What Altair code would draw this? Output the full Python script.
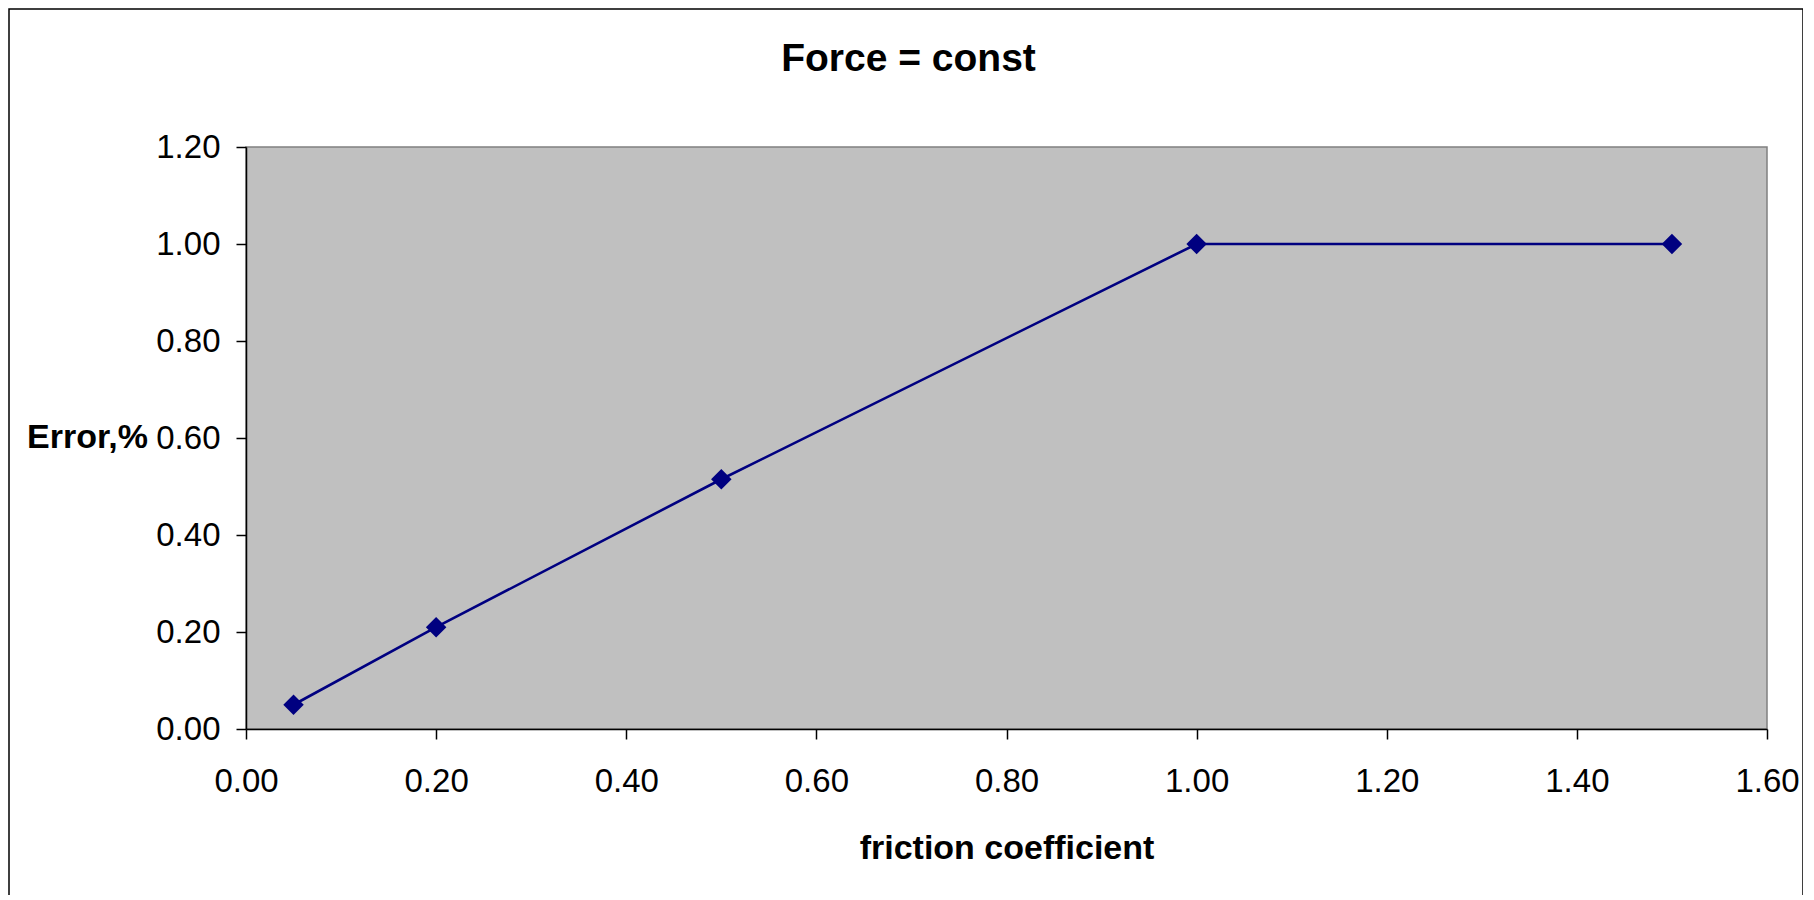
import altair as alt
import pandas as pd

# Data
friction = [0.05, 0.20, 0.50, 1.00, 1.50]
error_pct = [0.05, 0.21, 0.515, 1.00, 1.00]
x_ticks = [0.0, 0.2, 0.4, 0.6, 0.8, 1.0, 1.2, 1.4, 1.6]
y_ticks = [0.0, 0.2, 0.4, 0.6, 0.8, 1.0, 1.2]

df = pd.DataFrame({"friction": friction, "error": error_pct})

W, H = 1521, 582
FONT = "Liberation Sans"
NAVY = "#000080"

x_enc = alt.X(
    "friction:Q",
    scale=alt.Scale(domain=[0, 1.6], nice=False, zero=False),
    axis=alt.Axis(
        values=x_ticks, format=".2f", title="friction coefficient",
        labelPadding=26, labelFlush=False, titleY=119, titleBaseline="middle",
        titleAlign="center",
    ),
)
y_enc = alt.Y(
    "error:Q",
    scale=alt.Scale(domain=[0, 1.2], nice=False),
    axis=alt.Axis(
        values=y_ticks, format=".2f", title="Error,%",
        labelPadding=16, labelFlush=False, titleAngle=0, titleX=-159, titleY=290,
        titleAlign="center", titleBaseline="middle",
    ),
)

line = alt.Chart(df).mark_line(color=NAVY, strokeWidth=2.6).encode(x=x_enc, y=y_enc)
points = alt.Chart(df).mark_point(
    shape="diamond", filled=True, size=420, color=NAVY, opacity=1
).encode(x="friction:Q", y="error:Q")

border = alt.Chart(pd.DataFrame({"a": [0]})).mark_rect(
    fillOpacity=0, stroke="black", strokeWidth=1.5
).encode(
    x=alt.value(-237), x2=alt.value(W + 36), y=alt.value(-138), y2=alt.value(H + 250)
)

chart = (
    alt.layer(border, line, points)
    .properties(
        width=W,
        height=H,
        title=alt.TitleParams(
            "Force = const", fontSize=39, font=FONT, fontWeight="bold",
            anchor="middle", dx=-98, offset=-90, baseline="middle", color="black",
        ),
        autosize=alt.AutoSizeParams(type="none"),
        padding={"left": 238, "top": 139, "right": 36, "bottom": 166},
        background="white",
    )
    .configure_view(fill="#C0C0C0", stroke="#808080", strokeWidth=1.5)
    .configure_axis(
        grid=False, domainColor="black", domainWidth=1.5, tickColor="black",
        tickWidth=1.5, tickSize=10, labelFont=FONT, labelFontSize=33,
        labelColor="black", titleFont=FONT, titleFontSize=34,
        titleFontWeight="bold", titleColor="black",
    )
)

chart.save("out.html", embed_options={"renderer": "svg", "actions": False})
